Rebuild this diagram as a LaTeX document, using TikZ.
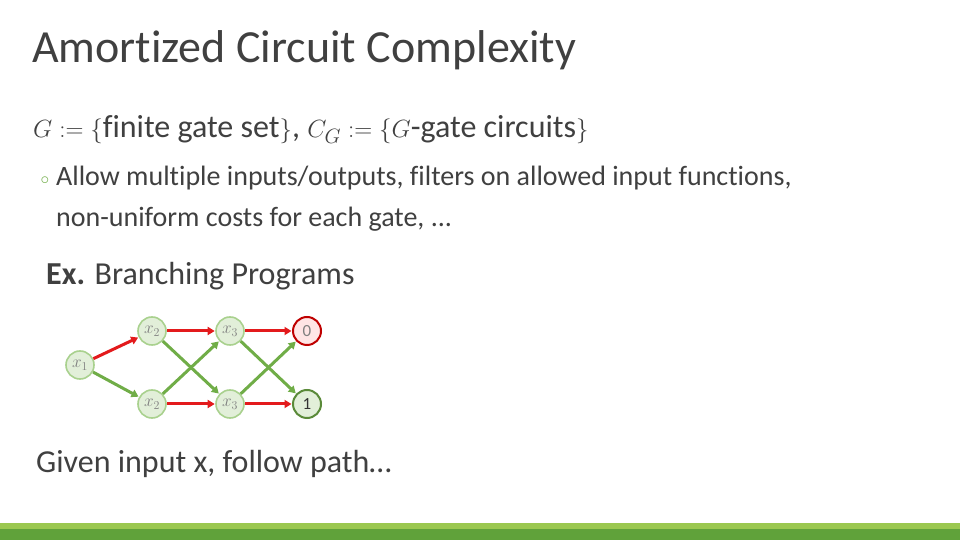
\documentclass[tikz,border=0pt]{standalone}
\usepackage{fontspec}
\setmainfont{Carlito}[Ligatures=NoCommon]
\usetikzlibrary{arrows.meta}

\definecolor{textogris}{HTML}{404040}
\definecolor{verdeclaro}{HTML}{9BC850}
\definecolor{verdeoscuro}{HTML}{60A23A}
\definecolor{rellenonodo}{HTML}{E2EFD9}
\definecolor{bordenodo}{HTML}{A9D18E}
\definecolor{rojoarista}{HTML}{E31A1C}
\definecolor{verdearista}{HTML}{70AD47}

\tikzset{
  estado/.style={circle, draw=bordenodo, fill=rellenonodo, line width=1.6pt,
    minimum size=28pt, inner sep=0pt, text=gray, font=\fontsize{17}{17}\selectfont},
  arista/.style={line width=3pt, -{Triangle[length=7pt, width=8pt]}, shorten >=0.5pt},
  texto/.style={anchor=base west, inner sep=0pt, text=textogris}
}

\begin{document}
\begin{tikzpicture}[x=1pt, y=1pt]

  % Marco de la diapositiva
  \useasboundingbox (0, 0) rectangle (960, 540);
  \fill[white] (0, 0) rectangle (960, 540);

  % Barra inferior verde
  \fill[verdeclaro] (0, 11) rectangle (960, 17);
  \fill[verdeoscuro] (0, 0) rectangle (960, 11);

  % Titulo
  \node[texto, font=\fontsize{46}{46}\selectfont] (titulo) at (32, 477) {Amortized Circuit Complexity};

  % Definiciones
  \node[texto, font=\fontsize{32}{32}\selectfont] (defs) at (33, 402)
    {$G\mathrel{:=}\{$finite gate set$\}$, $C_G\mathrel{:=}\{G$-gate circuits$\}$};
  \node[anchor=base, inner sep=0pt, text=verdearista, font=\fontsize{16}{16}\selectfont] (vineta) at (45, 355) {$\circ$};
  \node[texto, font=\fontsize{28}{28}\selectfont] (linea1) at (56, 354)
    {Allow multiple inputs/outputs, filters on allowed input functions,};
  \node[texto, font=\fontsize{28}{28}\selectfont] (linea2) at (56, 313)
    {non-uniform costs for each gate, ...};

  % Ejemplo
  \node[texto, font=\fontsize{32}{32}\selectfont] (ejemplo) at (46, 255) {\textbf{Ex.} Branching Programs};

  % Nodos del programa de ramificacion
  \node[estado] (x1) at (80, 175) {$x_1$};
  \foreach \fila/\y in {a/209, b/136} {
    \node[estado] (\fila2) at (152, \y) {$x_2$};
    \node[estado] (\fila3) at (230, \y) {$x_3$};
  }
  \node[estado, draw=red!75!black, fill=red!10, line width=2pt] (cero) at (307, 209) {0};
  \node[estado, draw=verdearista!80!black, fill=rellenonodo, line width=2pt, text=black!80] (uno) at (307, 136) {1};

  % Aristas rojas (bit 0) y verdes (bit 1)
  \foreach \desde/\hasta in {x1/a2, a2/a3, b2/b3, a3/cero, b3/uno} {
    \draw[arista, rojoarista] (\desde) -- (\hasta);
  }
  \foreach \desde/\hasta in {x1/b2, a2/b3, b2/a3, a3/uno, b3/cero} {
    \draw[arista, verdearista] (\desde) -- (\hasta);
  }

  % Texto final
  \node[texto, font=\fontsize{32}{32}\selectfont] (final) at (36, 67) {Given input x, follow path\dots};

\end{tikzpicture}
\end{document}
